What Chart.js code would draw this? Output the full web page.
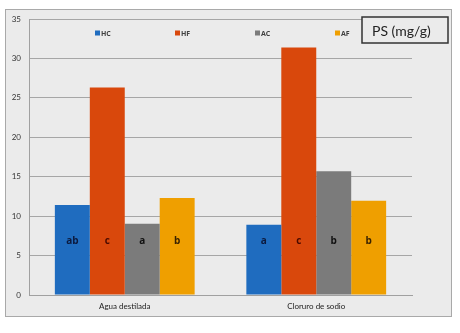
<!DOCTYPE html>
<html><head><meta charset="utf-8">
<script src="https://cdn.jsdelivr.net/npm/chart.js@4/dist/chart.umd.min.js"></script>
<style>html,body{margin:0;padding:0;background:#fff}#wrap{width:460px;height:333px;position:relative}</style>
</head><body><div id="wrap"><canvas id="c" width="460" height="333"></canvas></div>
<script>
const categories = ["Agua destilada", "Cloruro de sodio"];
const seriesNames = ["HC", "HF", "AC", "AF"];
const HC = [11.4, 8.9];
const HF = [26.3, 31.4];
const AC = [9.05, 15.7];
const AF = [12.3, 11.95];
const letterHC = ["ab", "a"];
const letterHF = ["c", "c"];
const letterAC = ["a", "b"];
const letterAF = ["b", "b"];
const yTicks = [0, 5, 10, 15, 20, 25, 30, 35];
const unitLabel = "PS (mg/g)";

const colors = ["#1f6cbf", "#d9480c", "#7b7b7b", "#ef9f00"];
const letterColors = ["#0c1a3e", "#4a0a00", "#111111", "#3a2300"];
const values = [HC, HF, AC, AF];
const letters = [letterHC, letterHF, letterAC, letterAF];
const FONT = "Lato, 'Open Sans', sans-serif";

const framePlugin = {
  id: 'frame',
  beforeDraw(chart) {
    const ctx = chart.ctx;
    ctx.save();
    ctx.fillStyle = '#ffffff';
    ctx.fillRect(0, 0, chart.width, chart.height);
    ctx.fillStyle = '#ebebeb';
    ctx.fillRect(5, 9, 447, 308);
    ctx.strokeStyle = '#a9a9a9';
    ctx.lineWidth = 1;
    ctx.strokeRect(5.5, 9.5, 446, 307);
    ctx.restore();
  },
  afterDraw(chart) {
    const ctx = chart.ctx;
    const ca = chart.chartArea;
    const ys = chart.scales.y;
    ctx.save();
    // legend inside plot
    ctx.font = "bold 7px 'Open Sans', sans-serif";
    ctx.textBaseline = 'middle';
    chart.data.datasets.forEach((ds, i) => {
      const bx = ca.left + 66 + i * 80;
      const by = 33;
      ctx.fillStyle = ds.backgroundColor;
      ctx.fillRect(bx, by - 2.5, 5, 5);
      ctx.fillStyle = '#404040';
      ctx.textAlign = 'left';
      ctx.fillText(ds.label, bx + 6, by + 0.5);
    });
    // significance letters
    ctx.font = "bold 10px 'Open Sans', sans-serif";
    ctx.textAlign = 'center';
    chart.data.datasets.forEach((ds, i) => {
      const meta = chart.getDatasetMeta(i);
      meta.data.forEach((bar, j) => {
        ctx.fillStyle = letterColors[i];
        ctx.fillText(letters[i][j], bar.x, ys.getPixelForValue(6.85));
      });
    });
    // unit box
    ctx.fillStyle = '#ebebeb';
    ctx.fillRect(362, 17, 86, 26);
    ctx.strokeStyle = '#333333';
    ctx.lineWidth = 1.5;
    ctx.strokeRect(362, 17, 86, 26);
    ctx.fillStyle = '#222222';
    ctx.font = "14px " + FONT;
    ctx.textAlign = 'left';
    ctx.fillText(unitLabel, 372, 31);
    ctx.restore();
  }
};

new Chart(document.getElementById('c'), {
  type: 'bar',
  data: {
    labels: categories,
    datasets: seriesNames.map((n, i) => ({
      label: n, data: values[i], backgroundColor: colors[i],
      borderWidth: 0, barPercentage: 1.0, categoryPercentage: 0.73
    }))
  },
  options: {
    responsive: false,
    animation: false,
    layout: { padding: { left: 0, right: 48, top: 19, bottom: 0 } },
    plugins: { legend: { display: false }, tooltip: { enabled: false } },
    scales: {
      x: {
        grid: { display: false, drawTicks: false },
        border: { color: '#a0a0a0', width: 1 },
        ticks: { color: '#222', font: { family: FONT, size: 8 }, padding: 7 },
        afterFit(s) { s.height = 38; }
      },
      y: {
        min: 0, max: 35,
        afterBuildTicks(s) { s.ticks = yTicks.map(v => ({ value: v })); },
        grid: { color: '#a6a6a6', lineWidth: 1, drawTicks: false },
        border: { color: '#a0a0a0', width: 1 },
        ticks: { color: '#333', font: { family: FONT, size: 8 }, padding: 8 },
        afterFit(s) { s.width = 29; }
      }
    }
  },
  plugins: [framePlugin]
});
</script></body></html>
